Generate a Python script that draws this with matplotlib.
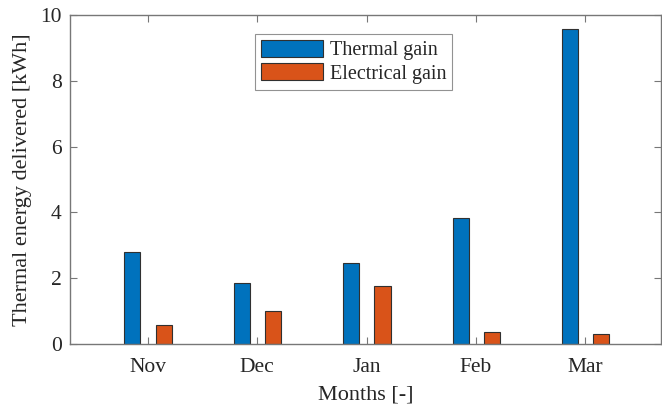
import numpy as np
import matplotlib
matplotlib.use("Agg")
import matplotlib.pyplot as plt

months = ["Nov", "Dec", "Jan", "Feb", "Mar"]
thermal_gain = [2.79, 1.84, 2.47, 3.82, 9.57]
electrical_gain = [0.59, 1.00, 1.76, 0.36, 0.30]

plt.rcParams["font.family"] = ["Liberation Serif", "DejaVu Serif"]
axis_color = "#777777"
text_color = "#262626"

fig = plt.figure(figsize=(6.62, 4.05), dpi=100)
ax = fig.add_axes([70 / 662, 1 - 344 / 405, (661 - 70) / 662, (344 - 15) / 405])

x = np.arange(1, len(months) + 1)
w = 0.147
ax.bar(x - 0.14, thermal_gain, width=w, color="#0072BD", edgecolor="#303030",
       linewidth=0.8, label="Thermal gain")
ax.bar(x + 0.145, electrical_gain, width=w, color="#D95319", edgecolor="#303030",
       linewidth=0.8, label="Electrical gain")

ax.set_xlim(0.29, 5.69)
ax.set_ylim(0, 10)
ax.set_xticks(x)
ax.set_xticklabels(months)
ax.set_yticks([0, 2, 4, 6, 8, 10])

for s in ax.spines.values():
    s.set_color(axis_color)
    s.set_linewidth(1.0)
ax.tick_params(direction="in", top=True, right=True, length=5, width=0.8,
               color=axis_color, labelsize=15.5, labelcolor=text_color)
ax.tick_params(axis="x", pad=10)
ax.tick_params(axis="y", pad=6)

ax.set_xlabel("Months [-]", fontsize=16, color=text_color, labelpad=6)
ax.set_ylabel("Thermal energy delivered [kWh]", fontsize=16, color=text_color, labelpad=6)

leg = ax.legend(loc="upper left", bbox_to_anchor=((255 - 70) / 591, 1 - (34 - 15) / 329),
                fontsize=14.5, frameon=True, fancybox=False, handlelength=3.1,
                handleheight=0.9, borderpad=0.3, labelspacing=0.15, handletextpad=0.3,
                borderaxespad=0)
leg.get_frame().set_edgecolor(axis_color)
leg.get_frame().set_linewidth(0.8)
for t in leg.get_texts():
    t.set_color(text_color)

fig.savefig("out.png", dpi=100)
